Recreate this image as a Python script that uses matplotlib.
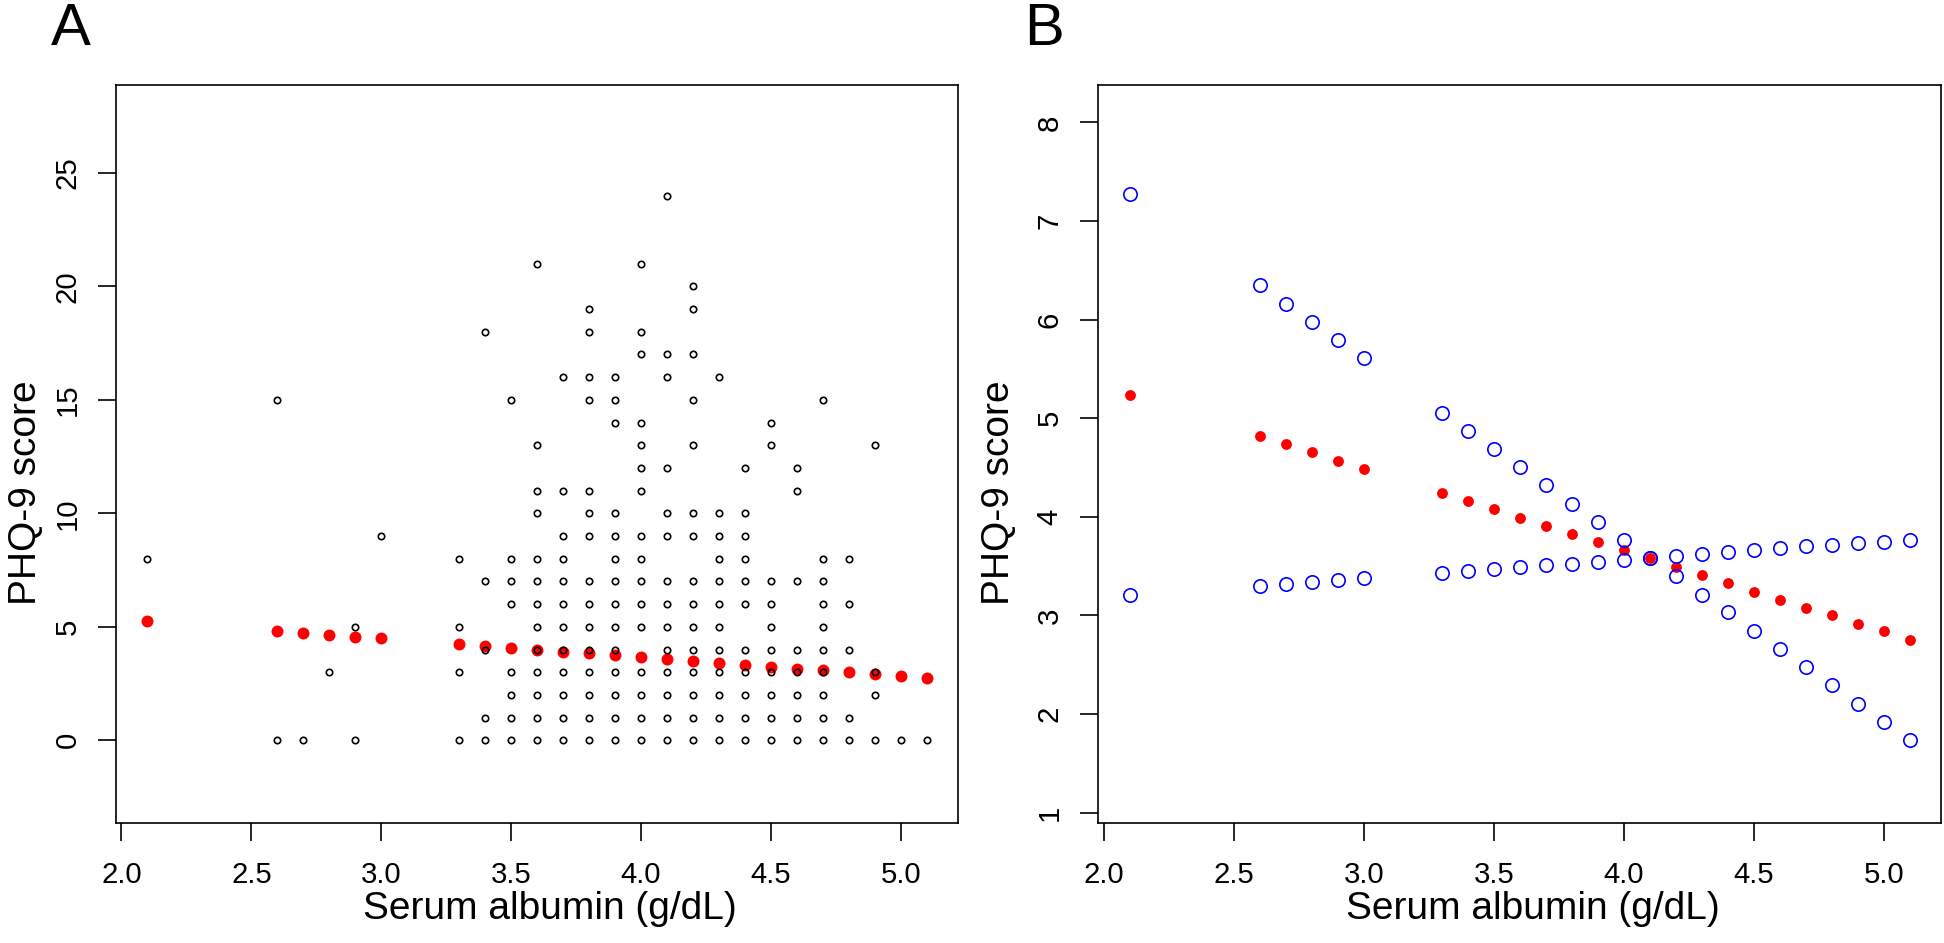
"""Serum albumin vs PHQ-9 score: raw scores (A) and fitted values with band (B)"""

import matplotlib.pyplot as plt

plt.rcParams['font.family'] = ['Liberation Sans', 'DejaVu Sans']

# albumin levels present in the data (g/dL)
albumin = [2.1, 2.6, 2.7, 2.8, 2.9, 3.0, 3.3, 3.4, 3.5, 3.6, 3.7, 3.8, 3.9,
           4.0, 4.1, 4.2, 4.3, 4.4, 4.5, 4.6, 4.7, 4.8, 4.9, 5.0, 5.1]

# observed PHQ-9 scores at each albumin level (panel A)
phq_obs = [
    [8],
    [0, 15],
    [0],
    [3],
    [0, 5],
    [9],
    [0, 3, 5, 8],
    [0, 1, 4, 7, 18],
    [0, 1, 2, 3, 6, 7, 8, 15],
    [0, 1, 2, 3, 4, 5, 6, 7, 8, 10, 11, 13, 21],
    [0, 1, 2, 3, 4, 5, 6, 7, 8, 9, 11, 16],
    [0, 1, 2, 3, 4, 5, 6, 7, 9, 10, 11, 15, 16, 18, 19],
    [0, 1, 2, 3, 4, 5, 6, 7, 8, 9, 10, 14, 15, 16],
    [0, 1, 2, 3, 5, 6, 7, 8, 9, 11, 12, 13, 14, 17, 18, 21],
    [0, 1, 2, 3, 4, 5, 6, 7, 9, 10, 12, 16, 17, 24],
    [0, 1, 2, 3, 4, 5, 6, 7, 9, 10, 13, 15, 17, 19, 20],
    [0, 1, 2, 3, 4, 5, 6, 7, 8, 9, 10, 16],
    [0, 1, 2, 3, 4, 6, 7, 8, 9, 10, 12],
    [0, 1, 2, 3, 4, 5, 6, 7, 13, 14],
    [0, 1, 2, 3, 4, 7, 11, 12],
    [0, 1, 2, 3, 4, 5, 6, 7, 8, 15],
    [0, 1, 4, 6, 8],
    [0, 2, 3, 13],
    [0],
    [0],
]

# fitted PHQ-9 score
phq_fit = [5.24, 4.82, 4.74, 4.66, 4.57, 4.49, 4.24, 4.16, 4.08, 3.99, 3.91,
           3.83, 3.74, 3.66, 3.58, 3.49, 3.41, 3.33, 3.24, 3.16, 3.08, 3.00,
           2.91, 2.84, 2.75]

# the two band curves (crossing near 4.1 g/dL)
band_steep = [7.27, 6.35, 6.16, 5.98, 5.79, 5.61, 5.05, 4.87, 4.69, 4.51, 4.32,
              4.13, 3.95, 3.77, 3.58, 3.40, 3.21, 3.03, 2.84, 2.66, 2.48, 2.29,
              2.10, 1.92, 1.74]
band_flat = [3.21, 3.30, 3.32, 3.34, 3.36, 3.38, 3.43, 3.45, 3.47, 3.49, 3.51,
             3.52, 3.54, 3.56, 3.58, 3.60, 3.62, 3.64, 3.66, 3.68, 3.70, 3.71,
             3.73, 3.75, 3.77]

x_ticks = [2.0, 2.5, 3.0, 3.5, 4.0, 4.5, 5.0]
x_ticklabels = ['2.0', '2.5', '3.0', '3.5', '4.0', '4.5', '5.0']
ticks_a = [0, 5, 10, 15, 20, 25]
ticks_b = [1, 2, 3, 4, 5, 6, 7, 8]

W, H = 1944, 943
fig = plt.figure(figsize=(W / 100, H / 100), dpi=100)
fig.set_facecolor('w')


def px_axes(left, top, right, bottom):
    return fig.add_axes([left / W, 1 - bottom / H, (right - left) / W, (bottom - top) / H])


def style_axes(ax, yticks, ylab_x):
    for s in ax.spines.values():
        s.set_linewidth(1.2)
    ax.set_xlim(1.98, 5.22)
    ax.set_xticks(x_ticks)
    ax.set_xticklabels(x_ticklabels)
    ax.set_yticks(yticks)
    ax.tick_params(direction='out', length=13, width=1.2, labelsize=21.2, color='k')
    ax.tick_params(axis='x', pad=15)
    ax.tick_params(axis='y', pad=12, labelrotation=90)
    for lab in ax.get_yticklabels():
        lab.set_va('center')
    ax.set_xlabel('Serum albumin (g/dL)', fontsize=28)
    ax.set_ylabel('PHQ-9 score', fontsize=28)
    ax.xaxis.set_label_coords(0.515, -0.093)
    ax.yaxis.set_label_coords(ylab_x, 0.447)


# panel A
ax_a = px_axes(116.3, 85, 958, 822.5)
xs = [a for a, col in zip(albumin, phq_obs) for _ in col]
ys = [v for col in phq_obs for v in col]
ax_a.plot(albumin, phq_fit, 'o', color='red', ms=8.6, mec='none', zorder=2)
ax_a.plot(xs, ys, 'o', mfc='none', mec='black', ms=4.6, mew=1.2, zorder=3)
ax_a.set_ylim(-3.62, 28.87)
style_axes(ax_a, ticks_a, -0.086)

# panel B
ax_b = px_axes(1098.3, 85, 1941.3, 822.5)
ax_b.plot(albumin, phq_fit, 'o', color='red', ms=7.8, mec='none', zorder=2)
ax_b.plot(albumin, band_steep, 'o', mfc='none', mec='blue', ms=9.6, mew=1.2, zorder=3)
ax_b.plot(albumin, band_flat, 'o', mfc='none', mec='blue', ms=9.6, mew=1.2, zorder=3)
ax_b.set_ylim(0.90, 8.38)
style_axes(ax_b, ticks_b, -0.096)

fig.text(50.7 / W, 1 - 45 / H, 'A', fontsize=43, va='baseline', ha='left')
fig.text(1024 / W, 1 - 45 / H, 'B', fontsize=43, va='baseline', ha='left')

fig.savefig('out.png', dpi=100)
